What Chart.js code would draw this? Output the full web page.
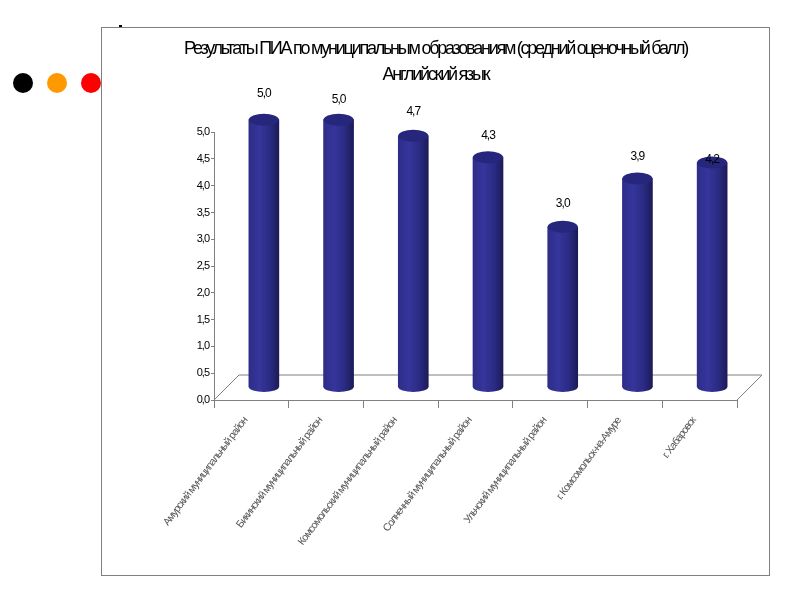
<!DOCTYPE html>
<html lang="ru">
<head>
<meta charset="utf-8">
<title>Результаты ПИА</title>
<script src="https://cdn.jsdelivr.net/npm/chart.js@4"></script>
<style>
    html, body { margin: 0; padding: 0; background: #fff; width: 800px; height: 600px; overflow: hidden; }
    .frame { position: absolute; left: 101px; top: 27px; width: 667px; height: 547px; border: 1px solid #808080; }
    .dot { position: absolute; top: 73px; width: 20px; height: 20px; border-radius: 50%; }
    .mark { position: absolute; left: 119px; top: 25px; width: 3px; height: 2px; background: #000; }
</style>
</head>
<body>
<div class="mark"></div>
<div class="frame"><canvas id="resultsChart" width="667" height="547"></canvas></div>
<div class="dot" style="left:13px;background:#000"></div>
<div class="dot" style="left:47px;background:#ff9900"></div>
<div class="dot" style="left:81px;background:#ff0000"></div>

<script>
// chart data
const categories = [
    "Амурский муниципальный район",
    "Бикинский муниципальный район",
    "Комсомольский муниципальный район",
    "Солнечный муниципальный район",
    "Ульчский муниципальный район",
    "г. Комсомольск-на-Амуре",
    "г. Хабаровск"
];
const scores = [5.0, 5.0, 4.7, 4.3, 3.0, 3.9, 4.2];
const titleLines = [
    "Результаты ПИА по муниципальным образованиям (средний оценочный балл)",
    "Английский язык"
];

// how far each value label sits above its bar top, px
const labelLift = [26, 20, 24, 22, 23, 22, 3];

const FONT = "'Liberation Sans', sans-serif";
const AXIS_GREY = "#808080";
const DEPTH = 12.5;      // pseudo 3D shift of the bars
const BAR_WIDTH = 30;
const PAD_RIGHT = 32;

const comma = v => Number(v).toFixed(1).replace(".", ",");

// same left-to-right shading for bar body and its bottom cap
function barGradient(ctx, x) {
    const g = ctx.createLinearGradient(x - BAR_WIDTH / 2, 0, x + BAR_WIDTH / 2, 0);
    g.addColorStop(0, "#2d2d88");
    g.addColorStop(0.35, "#35359c");
    g.addColorStop(0.7, "#2b2b84");
    g.addColorStop(1, "#1b1b58");
    return g;
}

/* ------------------------------
   FLOOR + CYLINDER LOOK
------------------------------ */
const floorPlugin = {
    id: "floor",
    // all text in the reference is squeezed together, the title even more
    beforeDraw(chart) {
        const ctx = chart.ctx;
        const block = chart.titleBlock;
        ctx.letterSpacing = "-1px";
        if (!block.squeezed) {
            const drawTitle = block.draw.bind(block);
            block.draw = () => {
                ctx.save();
                ctx.letterSpacing = "-2.25px";
                ctx.translate(PAD_RIGHT / 2, 0); // centre on the frame, not the padded box
                drawTitle();
                ctx.restore();
            };
            block.squeezed = true;
        }
    },
    beforeDatasetsDraw(chart) {
        const { ctx, chartArea: a } = chart;
        const d = DEPTH * 2;
        ctx.save();
        ctx.strokeStyle = AXIS_GREY;
        ctx.lineWidth = 1;
        ctx.beginPath();
        ctx.moveTo(a.left, a.bottom);
        ctx.lineTo(a.left + d, a.bottom - d);
        ctx.lineTo(a.right + d, a.bottom - d);
        ctx.lineTo(a.right, a.bottom);
        ctx.stroke();
        ctx.restore();
    }
};

const cylinderPlugin = {
    id: "cylinder",
    beforeDatasetDraw(chart) {
        chart.ctx.save();
        chart.ctx.translate(DEPTH, -DEPTH);
    },
    afterDatasetDraw(chart, args) {
        const ctx = chart.ctx;
        args.meta.data.forEach(bar => {
            ctx.fillStyle = barGradient(ctx, bar.x);
            ctx.beginPath();
            ctx.ellipse(bar.x, bar.base, BAR_WIDTH / 2, 5, 0, 0, Math.PI * 2);
            ctx.fill();

            ctx.fillStyle = "#26267c";
            ctx.beginPath();
            ctx.ellipse(bar.x, bar.y, BAR_WIDTH / 2, 6, 0, 0, Math.PI * 2);
            ctx.fill();
        });
        ctx.restore();
    },
    afterDatasetsDraw(chart) {
        const ctx = chart.ctx;
        ctx.save();
        ctx.font = "12px " + FONT;
        ctx.fillStyle = "#000";
        ctx.textAlign = "center";
        ctx.textBaseline = "middle";
        chart.getDatasetMeta(0).data.forEach((bar, i) => {
            ctx.fillText(comma(scores[i]), bar.x + DEPTH, bar.y - DEPTH - labelLift[i]);
        });
        ctx.restore();
    }
};

/* ------------------------------
   RESULTS CHART
------------------------------ */
new Chart(document.getElementById("resultsChart"), {
    type: "bar",
    data: {
        labels: categories,
        datasets: [{
            data: scores,
            barThickness: BAR_WIDTH,
            clip: false,
            backgroundColor: c => {
                // options also get resolved once without a data index
                const x = c.chart.scales.x.getPixelForValue(c.dataIndex);
                return Number.isFinite(x) ? barGradient(c.chart.ctx, x) : "#2d2d88";
            }
        }]
    },
    options: {
        responsive: false,
        animation: false,
        devicePixelRatio: 1,
        layout: { padding: { right: PAD_RIGHT } },
        plugins: {
            legend: { display: false },
            tooltip: { enabled: false },
            title: {
                display: true,
                text: titleLines,
                color: "#000",
                font: { family: FONT, size: 18, weight: "normal", lineHeight: 1.45 },
                padding: { top: 8, bottom: 44 }
            }
        },
        scales: {
            x: {
                afterFit: s => { s.height = 175; },
                border: { color: AXIS_GREY },
                grid: { offset: true, drawOnChartArea: false, color: AXIS_GREY, tickLength: 8 },
                ticks: {
                    autoSkip: false,
                    minRotation: 53,
                    maxRotation: 53,
                    padding: 7,
                    labelOffset: -6,
                    color: "#555",
                    font: { family: FONT, size: 10.5 }
                }
            },
            y: {
                min: 0,
                max: 5,
                afterFit: s => { s.width = 112; },
                border: { color: AXIS_GREY },
                grid: { drawOnChartArea: false, color: AXIS_GREY, tickLength: 3 },
                ticks: {
                    stepSize: 0.5,
                    padding: 2,
                    color: "#000",
                    font: { family: FONT, size: 11 },
                    callback: v => comma(v)
                }
            }
        }
    },
    plugins: [floorPlugin, cylinderPlugin]
});
</script>
</body>
</html>
